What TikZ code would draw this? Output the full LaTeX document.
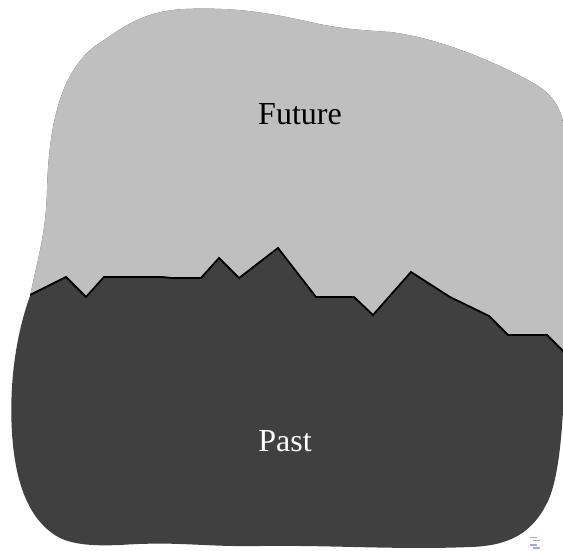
\documentclass[tikz,border=0pt]{standalone}
\usepackage{fontspec}
\setmainfont{Liberation Serif}
\definecolor{lightc}{RGB}{191,191,191}
\definecolor{darkc}{RGB}{64,64,64}
\definecolor{navc}{RGB}{165,165,230}
\newcommand{\blobpath}{(30,296)
 .. controls (40,250) and (46,230) .. (47,190)
 .. controls (49,120) and (62,72) .. (95,46)
 .. controls (120,30) and (140,11) .. (185,9)
 .. controls (235,7) and (270,13) .. (310,22)
 .. controls (340,29) and (360,30) .. (390,32)
 .. controls (440,38) and (500,64) .. (535,84)
 .. controls (558,98) and (564,115) .. (565,140)
 -- (565,350)
 .. controls (564,420) and (560,480) .. (546,505)
 .. controls (532,532) and (510,546) .. (470,547)
 .. controls (400,550) and (330,545) .. (260,546)
 .. controls (200,547) and (180,541) .. (120,545)
 .. controls (95,546) and (75,545) .. (60,538)
 .. controls (35,525) and (18,495) .. (13,445)
 .. controls (8,395) and (14,340) .. (30,296) -- cycle}
\tikzset{
  boundary/.style={line width=1.8pt,line join=miter,black},
  lbl/.style={font=\fontsize{32}{38}\selectfont,inner sep=0pt},
  navbar/.style={line width=1.2pt,navc}
}
\begin{document}
\begin{tikzpicture}[x=1pt,y=-1pt]
\useasboundingbox (0,0) rectangle (563,551);
\clip (0,0) rectangle (563,551);
\fill[darkc] \blobpath;
\begin{scope}
  \clip \blobpath;
  \fill[lightc] (0,0) -- (0,296) -- (28,296) -- (66,277) -- (86,297) -- (104,277) -- (162,277) -- (172,278) -- (201,278) -- (219,258) -- (239,278) -- (278,248) -- (316,297) -- (354,297) -- (373,315) -- (411,272) -- (450,297) -- (489,316) -- (508,335) -- (547,335) -- (567,355) -- (600,355) -- (600,0) -- cycle;
  \draw[boundary] (20,300) -- (28,296) -- (66,277) -- (86,297) -- (104,277) -- (162,277) -- (172,278) -- (201,278) -- (219,258) -- (239,278) -- (278,248) -- (316,297) -- (354,297) -- (373,315) -- (411,272) -- (450,297) -- (489,316) -- (508,335) -- (547,335) -- (567,355) -- (580,368);
\end{scope}
\node[lbl,text=black] (future) at (300,114) {Future};
\node[lbl,text=white] (past) at (285,441) {Past};
\coordinate (n1) at (530,537.5);
\coordinate (n2) at (533,540.5);
\coordinate (n3) at (530,545);
\coordinate (n4) at (533,548);
\draw[navbar] (n1) -- ++(7,0);
\draw[navbar] (n2) -- ++(7,0);
\draw[navbar] (n3) -- ++(7,0);
\draw[navbar] (n4) -- ++(7,0);
\end{tikzpicture}
\end{document}
